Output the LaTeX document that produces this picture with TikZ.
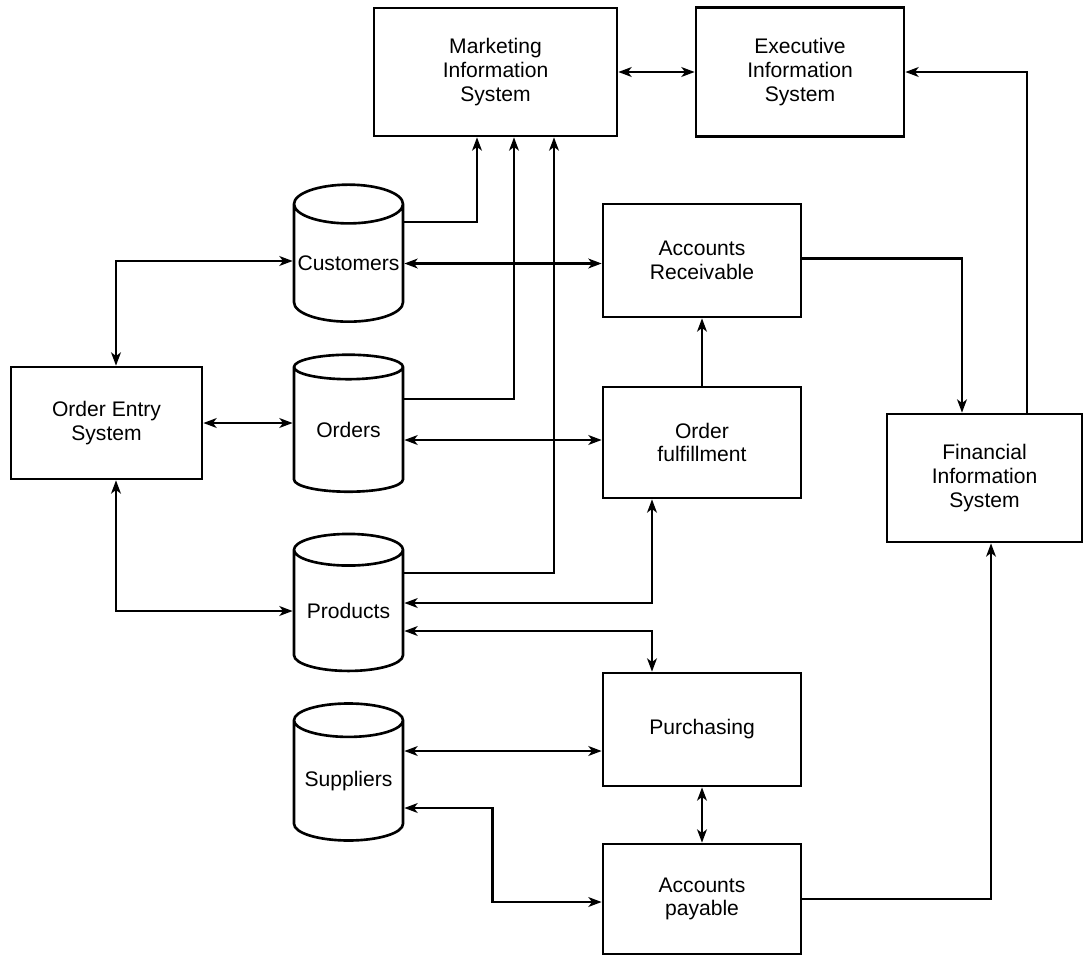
\documentclass[tikz,border=0pt]{standalone}
\usepackage{fontspec}
\setmainfont{Liberation Sans}
\usetikzlibrary{shapes.geometric,arrows.meta}

\begin{document}
\begin{tikzpicture}[x=0.2mm, y=-0.2mm, line width=1.5pt,
    >={Stealth[length=7.5pt,width=5.5pt,inset=2pt]}]
  \tikzstyle{sys}=[rectangle, draw, align=center, inner sep=2pt, font=\fontsize{12}{13.5}\selectfont]
  \tikzstyle{store}=[cylinder, shape border rotate=90, draw, aspect=0.38, minimum width=21.8mm, minimum height=27.4mm, inner sep=0pt, font=\fontsize{12}{13.5}\selectfont]

  \useasboundingbox (0,0) rectangle (1085,956);

  \node[sys, minimum width=48.6mm, minimum height=25.6mm] (mis) at (495.5, 72) {Marketing\\Information\\System};
  \node[sys, minimum width=41.6mm, minimum height=25.8mm] (eis) at (800, 72) {Executive\\Information\\System};
  \node[sys, minimum width=39.6mm, minimum height=22.6mm] (ar) at (702, 260.5) {Accounts\\Receivable};
  \node[sys, minimum width=39.6mm, minimum height=22.2mm] (of) at (702, 442.5) {Order\\fulfillment};
  \node[sys, minimum width=39.6mm, minimum height=22.6mm] (purch) at (702, 729.5) {Purchasing};
  \node[sys, minimum width=39.6mm, minimum height=22mm] (ap) at (702, 899) {Accounts\\payable};
  \node[sys, minimum width=38.2mm, minimum height=22.4mm] (oes) at (106.5, 423) {Order Entry\\System};
  \node[sys, minimum width=39mm, minimum height=25.6mm] (fis) at (984.5, 478) {Financial\\Information\\System};

  \node[store] (cust) at (348.5, 263.5) {Customers};
  \node[store] (ord) at (348.5, 430) {Orders};
  \node[store] (prod) at (348.5, 611) {Products};
  \node[store] (supp) at (348.5, 781) {Suppliers};

  \draw[<->] (mis) -- (eis);
  \draw[->] ([xshift=8.5mm]fis.north) |- (eis);
  \draw[->] ([yshift=0.4mm]ar.east) -| ([xshift=-4.5mm]fis.north);
  \draw[->] (ap) -| ([xshift=1.3mm]fis.south);
  \draw[->] (of) -- (ar);
  \draw[<->] (purch) -- (ap);

  \draw[<->] ([xshift=1.9mm]oes.north) |- ([yshift=0.5mm]cust.west);
  \draw[<->] (oes.east) -- (oes.east -| ord.west);
  \draw[<->] ([xshift=1.9mm]oes.south) |- (prod.west);

  \draw[->] ([yshift=8.3mm]cust.east) -| ([xshift=-3.7mm]mis.south);
  \draw[->] ([yshift=6.2mm]ord.east) -| ([xshift=3.7mm]mis.south);
  \draw[->] ([yshift=7.6mm]prod.east) -| ([xshift=11.7mm]mis.south);

  \draw[<->] (cust.east) -- (cust.east -| ar.west);
  \draw[<->] ([yshift=-2mm]ord.east) -- ([yshift=-2mm]ord.east -| of.west);
  \draw[<->] ([yshift=1.6mm]prod.east) -| ([xshift=-10mm]of.south);
  \draw[<->] ([yshift=-4mm]prod.east) -| ([xshift=-10mm]purch.north);
  \draw[<->] ([yshift=6mm]supp.east) -- ([yshift=6mm]supp.east -| purch.west);
  \draw[<->] ([yshift=-5.4mm]supp.east) -- ++(17.6mm,0) |- ([yshift=-0.6mm]ap.west);

\end{tikzpicture}
\end{document}
